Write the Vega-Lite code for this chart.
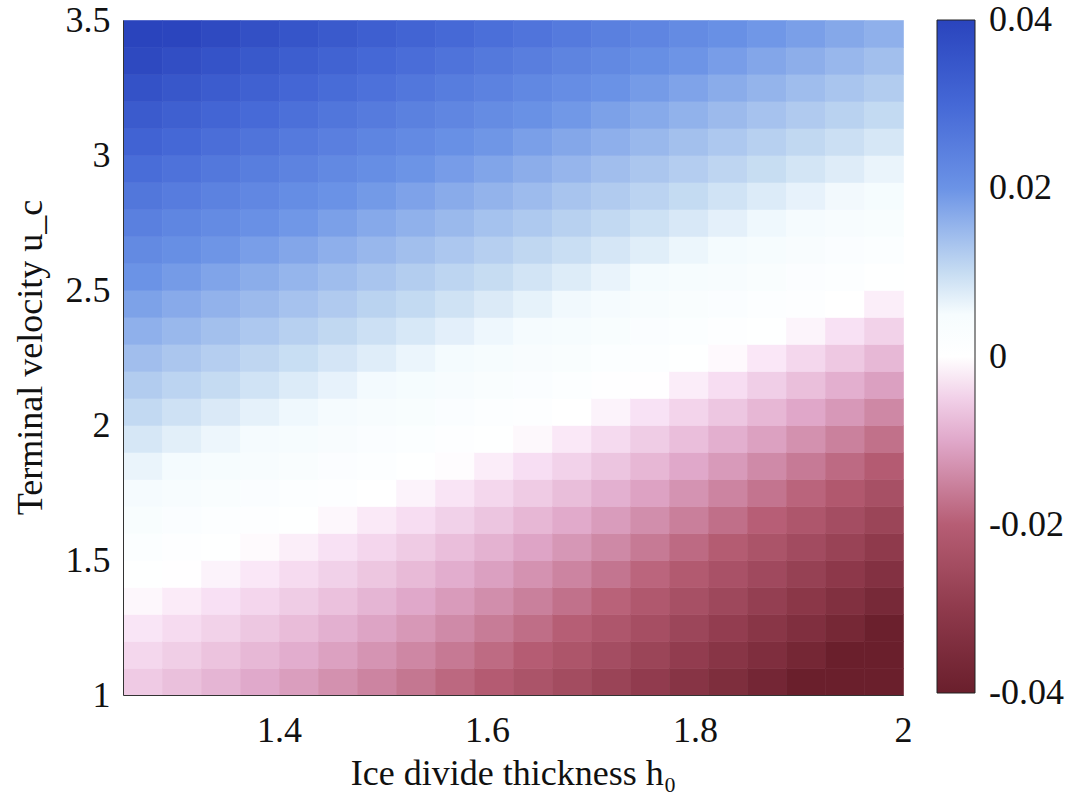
{
  "$schema": "https://vega.github.io/schema/vega-lite/v6.json",
  "autosize": {"type": "none"},
  "width": 780,
  "height": 675,
  "padding": {"left": 123, "top": 20, "right": 173, "bottom": 106},
  "background": "white",
  "config": {
    "view": {"stroke": null},
    "font": "Liberation Serif"
  },
  "data": {"values": [
{"h":1.2688,"u":1.05,"v":-0.0057},{"h":1.2688,"u":1.15,"v":-0.0041},{"h":1.2688,"u":1.25,"v":-0.0025},{"h":1.2688,"u":1.35,"v":-0.0008},{"h":1.2688,"u":1.45,"v":0.0007},{"h":1.2688,"u":1.55,"v":0.0022},{"h":1.2688,"u":1.65,"v":0.0037},{"h":1.2688,"u":1.75,"v":0.0053},{"h":1.2688,"u":1.85,"v":0.0069},{"h":1.2688,"u":1.95,"v":0.0086},{"h":1.2688,"u":2.05,"v":0.0104},{"h":1.2688,"u":2.15,"v":0.0122},{"h":1.2688,"u":2.25,"v":0.0141},{"h":1.2688,"u":2.35,"v":0.0160},{"h":1.2688,"u":2.45,"v":0.0180},{"h":1.2688,"u":2.55,"v":0.0201},{"h":1.2688,"u":2.65,"v":0.0222},{"h":1.2688,"u":2.75,"v":0.0244},{"h":1.2688,"u":2.85,"v":0.0266},{"h":1.2688,"u":2.95,"v":0.0289},{"h":1.2688,"u":3.05,"v":0.0313},{"h":1.2688,"u":3.15,"v":0.0337},{"h":1.2688,"u":3.25,"v":0.0362},{"h":1.2688,"u":3.35,"v":0.0387},{"h":1.2688,"u":3.45,"v":0.0400},
{"h":1.3063,"u":1.05,"v":-0.0070},{"h":1.3063,"u":1.15,"v":-0.0053},{"h":1.3063,"u":1.25,"v":-0.0036},{"h":1.3063,"u":1.35,"v":-0.0019},{"h":1.3063,"u":1.45,"v":-0.0001},{"h":1.3063,"u":1.55,"v":0.0013},{"h":1.3063,"u":1.65,"v":0.0028},{"h":1.3063,"u":1.75,"v":0.0043},{"h":1.3063,"u":1.85,"v":0.0059},{"h":1.3063,"u":1.95,"v":0.0076},{"h":1.3063,"u":2.05,"v":0.0093},{"h":1.3063,"u":2.15,"v":0.0111},{"h":1.3063,"u":2.25,"v":0.0130},{"h":1.3063,"u":2.35,"v":0.0149},{"h":1.3063,"u":2.45,"v":0.0168},{"h":1.3063,"u":2.55,"v":0.0189},{"h":1.3063,"u":2.65,"v":0.0210},{"h":1.3063,"u":2.75,"v":0.0231},{"h":1.3063,"u":2.85,"v":0.0253},{"h":1.3063,"u":2.95,"v":0.0276},{"h":1.3063,"u":3.05,"v":0.0299},{"h":1.3063,"u":3.15,"v":0.0323},{"h":1.3063,"u":3.25,"v":0.0347},{"h":1.3063,"u":3.35,"v":0.0372},{"h":1.3063,"u":3.45,"v":0.0398},
{"h":1.3438,"u":1.05,"v":-0.0084},{"h":1.3438,"u":1.15,"v":-0.0066},{"h":1.3438,"u":1.25,"v":-0.0048},{"h":1.3438,"u":1.35,"v":-0.0030},{"h":1.3438,"u":1.45,"v":-0.0012},{"h":1.3438,"u":1.55,"v":0.0005},{"h":1.3438,"u":1.65,"v":0.0019},{"h":1.3438,"u":1.75,"v":0.0034},{"h":1.3438,"u":1.85,"v":0.0050},{"h":1.3438,"u":1.95,"v":0.0066},{"h":1.3438,"u":2.05,"v":0.0083},{"h":1.3438,"u":2.15,"v":0.0101},{"h":1.3438,"u":2.25,"v":0.0119},{"h":1.3438,"u":2.35,"v":0.0138},{"h":1.3438,"u":2.45,"v":0.0157},{"h":1.3438,"u":2.55,"v":0.0177},{"h":1.3438,"u":2.65,"v":0.0197},{"h":1.3438,"u":2.75,"v":0.0218},{"h":1.3438,"u":2.85,"v":0.0240},{"h":1.3438,"u":2.95,"v":0.0262},{"h":1.3438,"u":3.05,"v":0.0285},{"h":1.3438,"u":3.15,"v":0.0309},{"h":1.3438,"u":3.25,"v":0.0333},{"h":1.3438,"u":3.35,"v":0.0358},{"h":1.3438,"u":3.45,"v":0.0383},
{"h":1.3813,"u":1.05,"v":-0.0099},{"h":1.3813,"u":1.15,"v":-0.0080},{"h":1.3813,"u":1.25,"v":-0.0061},{"h":1.3813,"u":1.35,"v":-0.0042},{"h":1.3813,"u":1.45,"v":-0.0023},{"h":1.3813,"u":1.55,"v":-0.0005},{"h":1.3813,"u":1.65,"v":0.0011},{"h":1.3813,"u":1.75,"v":0.0026},{"h":1.3813,"u":1.85,"v":0.0041},{"h":1.3813,"u":1.95,"v":0.0057},{"h":1.3813,"u":2.05,"v":0.0073},{"h":1.3813,"u":2.15,"v":0.0091},{"h":1.3813,"u":2.25,"v":0.0108},{"h":1.3813,"u":2.35,"v":0.0127},{"h":1.3813,"u":2.45,"v":0.0146},{"h":1.3813,"u":2.55,"v":0.0165},{"h":1.3813,"u":2.65,"v":0.0185},{"h":1.3813,"u":2.75,"v":0.0206},{"h":1.3813,"u":2.85,"v":0.0227},{"h":1.3813,"u":2.95,"v":0.0249},{"h":1.3813,"u":3.05,"v":0.0272},{"h":1.3813,"u":3.15,"v":0.0295},{"h":1.3813,"u":3.25,"v":0.0319},{"h":1.3813,"u":3.35,"v":0.0343},{"h":1.3813,"u":3.45,"v":0.0368},
{"h":1.4188,"u":1.05,"v":-0.0114},{"h":1.4188,"u":1.15,"v":-0.0094},{"h":1.4188,"u":1.25,"v":-0.0075},{"h":1.4188,"u":1.35,"v":-0.0055},{"h":1.4188,"u":1.45,"v":-0.0036},{"h":1.4188,"u":1.55,"v":-0.0016},{"h":1.4188,"u":1.65,"v":0.0003},{"h":1.4188,"u":1.75,"v":0.0017},{"h":1.4188,"u":1.85,"v":0.0032},{"h":1.4188,"u":1.95,"v":0.0048},{"h":1.4188,"u":2.05,"v":0.0064},{"h":1.4188,"u":2.15,"v":0.0081},{"h":1.4188,"u":2.25,"v":0.0098},{"h":1.4188,"u":2.35,"v":0.0116},{"h":1.4188,"u":2.45,"v":0.0135},{"h":1.4188,"u":2.55,"v":0.0154},{"h":1.4188,"u":2.65,"v":0.0174},{"h":1.4188,"u":2.75,"v":0.0194},{"h":1.4188,"u":2.85,"v":0.0215},{"h":1.4188,"u":2.95,"v":0.0237},{"h":1.4188,"u":3.05,"v":0.0259},{"h":1.4188,"u":3.15,"v":0.0282},{"h":1.4188,"u":3.25,"v":0.0305},{"h":1.4188,"u":3.35,"v":0.0329},{"h":1.4188,"u":3.45,"v":0.0354},
{"h":1.4563,"u":1.05,"v":-0.0131},{"h":1.4563,"u":1.15,"v":-0.0110},{"h":1.4563,"u":1.25,"v":-0.0090},{"h":1.4563,"u":1.35,"v":-0.0069},{"h":1.4563,"u":1.45,"v":-0.0049},{"h":1.4563,"u":1.55,"v":-0.0029},{"h":1.4563,"u":1.65,"v":-0.0008},{"h":1.4563,"u":1.75,"v":0.0009},{"h":1.4563,"u":1.85,"v":0.0023},{"h":1.4563,"u":1.95,"v":0.0038},{"h":1.4563,"u":2.05,"v":0.0054},{"h":1.4563,"u":2.15,"v":0.0071},{"h":1.4563,"u":2.25,"v":0.0088},{"h":1.4563,"u":2.35,"v":0.0105},{"h":1.4563,"u":2.45,"v":0.0124},{"h":1.4563,"u":2.55,"v":0.0143},{"h":1.4563,"u":2.65,"v":0.0162},{"h":1.4563,"u":2.75,"v":0.0182},{"h":1.4563,"u":2.85,"v":0.0203},{"h":1.4563,"u":2.95,"v":0.0224},{"h":1.4563,"u":3.05,"v":0.0246},{"h":1.4563,"u":3.15,"v":0.0268},{"h":1.4563,"u":3.25,"v":0.0291},{"h":1.4563,"u":3.35,"v":0.0315},{"h":1.4563,"u":3.45,"v":0.0339},
{"h":1.4938,"u":1.05,"v":-0.0148},{"h":1.4938,"u":1.15,"v":-0.0127},{"h":1.4938,"u":1.25,"v":-0.0106},{"h":1.4938,"u":1.35,"v":-0.0084},{"h":1.4938,"u":1.45,"v":-0.0063},{"h":1.4938,"u":1.55,"v":-0.0042},{"h":1.4938,"u":1.65,"v":-0.0021},{"h":1.4938,"u":1.75,"v":0.0000},{"h":1.4938,"u":1.85,"v":0.0015},{"h":1.4938,"u":1.95,"v":0.0030},{"h":1.4938,"u":2.05,"v":0.0045},{"h":1.4938,"u":2.15,"v":0.0061},{"h":1.4938,"u":2.25,"v":0.0078},{"h":1.4938,"u":2.35,"v":0.0095},{"h":1.4938,"u":2.45,"v":0.0113},{"h":1.4938,"u":2.55,"v":0.0132},{"h":1.4938,"u":2.65,"v":0.0151},{"h":1.4938,"u":2.75,"v":0.0170},{"h":1.4938,"u":2.85,"v":0.0191},{"h":1.4938,"u":2.95,"v":0.0212},{"h":1.4938,"u":3.05,"v":0.0233},{"h":1.4938,"u":3.15,"v":0.0255},{"h":1.4938,"u":3.25,"v":0.0278},{"h":1.4938,"u":3.35,"v":0.0301},{"h":1.4938,"u":3.45,"v":0.0325},
{"h":1.5313,"u":1.05,"v":-0.0166},{"h":1.5313,"u":1.15,"v":-0.0144},{"h":1.5313,"u":1.25,"v":-0.0122},{"h":1.5313,"u":1.35,"v":-0.0100},{"h":1.5313,"u":1.45,"v":-0.0078},{"h":1.5313,"u":1.55,"v":-0.0056},{"h":1.5313,"u":1.65,"v":-0.0034},{"h":1.5313,"u":1.75,"v":-0.0012},{"h":1.5313,"u":1.85,"v":0.0006},{"h":1.5313,"u":1.95,"v":0.0021},{"h":1.5313,"u":2.05,"v":0.0036},{"h":1.5313,"u":2.15,"v":0.0052},{"h":1.5313,"u":2.25,"v":0.0068},{"h":1.5313,"u":2.35,"v":0.0085},{"h":1.5313,"u":2.45,"v":0.0103},{"h":1.5313,"u":2.55,"v":0.0121},{"h":1.5313,"u":2.65,"v":0.0140},{"h":1.5313,"u":2.75,"v":0.0159},{"h":1.5313,"u":2.85,"v":0.0179},{"h":1.5313,"u":2.95,"v":0.0199},{"h":1.5313,"u":3.05,"v":0.0221},{"h":1.5313,"u":3.15,"v":0.0242},{"h":1.5313,"u":3.25,"v":0.0265},{"h":1.5313,"u":3.35,"v":0.0288},{"h":1.5313,"u":3.45,"v":0.0311},
{"h":1.5688,"u":1.05,"v":-0.0186},{"h":1.5688,"u":1.15,"v":-0.0163},{"h":1.5688,"u":1.25,"v":-0.0140},{"h":1.5688,"u":1.35,"v":-0.0117},{"h":1.5688,"u":1.45,"v":-0.0094},{"h":1.5688,"u":1.55,"v":-0.0072},{"h":1.5688,"u":1.65,"v":-0.0049},{"h":1.5688,"u":1.75,"v":-0.0026},{"h":1.5688,"u":1.85,"v":-0.0003},{"h":1.5688,"u":1.95,"v":0.0012},{"h":1.5688,"u":2.05,"v":0.0027},{"h":1.5688,"u":2.15,"v":0.0042},{"h":1.5688,"u":2.25,"v":0.0059},{"h":1.5688,"u":2.35,"v":0.0075},{"h":1.5688,"u":2.45,"v":0.0092},{"h":1.5688,"u":2.55,"v":0.0110},{"h":1.5688,"u":2.65,"v":0.0129},{"h":1.5688,"u":2.75,"v":0.0148},{"h":1.5688,"u":2.85,"v":0.0167},{"h":1.5688,"u":2.95,"v":0.0187},{"h":1.5688,"u":3.05,"v":0.0208},{"h":1.5688,"u":3.15,"v":0.0230},{"h":1.5688,"u":3.25,"v":0.0252},{"h":1.5688,"u":3.35,"v":0.0274},{"h":1.5688,"u":3.45,"v":0.0297},
{"h":1.6063,"u":1.05,"v":-0.0206},{"h":1.6063,"u":1.15,"v":-0.0182},{"h":1.6063,"u":1.25,"v":-0.0159},{"h":1.6063,"u":1.35,"v":-0.0135},{"h":1.6063,"u":1.45,"v":-0.0111},{"h":1.6063,"u":1.55,"v":-0.0088},{"h":1.6063,"u":1.65,"v":-0.0064},{"h":1.6063,"u":1.75,"v":-0.0041},{"h":1.6063,"u":1.85,"v":-0.0017},{"h":1.6063,"u":1.95,"v":0.0004},{"h":1.6063,"u":2.05,"v":0.0018},{"h":1.6063,"u":2.15,"v":0.0033},{"h":1.6063,"u":2.25,"v":0.0049},{"h":1.6063,"u":2.35,"v":0.0065},{"h":1.6063,"u":2.45,"v":0.0082},{"h":1.6063,"u":2.55,"v":0.0100},{"h":1.6063,"u":2.65,"v":0.0118},{"h":1.6063,"u":2.75,"v":0.0136},{"h":1.6063,"u":2.85,"v":0.0156},{"h":1.6063,"u":2.95,"v":0.0176},{"h":1.6063,"u":3.05,"v":0.0196},{"h":1.6063,"u":3.15,"v":0.0217},{"h":1.6063,"u":3.25,"v":0.0239},{"h":1.6063,"u":3.35,"v":0.0261},{"h":1.6063,"u":3.45,"v":0.0284},
{"h":1.6438,"u":1.05,"v":-0.0227},{"h":1.6438,"u":1.15,"v":-0.0203},{"h":1.6438,"u":1.25,"v":-0.0178},{"h":1.6438,"u":1.35,"v":-0.0154},{"h":1.6438,"u":1.45,"v":-0.0129},{"h":1.6438,"u":1.55,"v":-0.0105},{"h":1.6438,"u":1.65,"v":-0.0081},{"h":1.6438,"u":1.75,"v":-0.0056},{"h":1.6438,"u":1.85,"v":-0.0032},{"h":1.6438,"u":1.95,"v":-0.0007},{"h":1.6438,"u":2.05,"v":0.0010},{"h":1.6438,"u":2.15,"v":0.0025},{"h":1.6438,"u":2.25,"v":0.0040},{"h":1.6438,"u":2.35,"v":0.0056},{"h":1.6438,"u":2.45,"v":0.0072},{"h":1.6438,"u":2.55,"v":0.0090},{"h":1.6438,"u":2.65,"v":0.0107},{"h":1.6438,"u":2.75,"v":0.0126},{"h":1.6438,"u":2.85,"v":0.0145},{"h":1.6438,"u":2.95,"v":0.0164},{"h":1.6438,"u":3.05,"v":0.0184},{"h":1.6438,"u":3.15,"v":0.0205},{"h":1.6438,"u":3.25,"v":0.0226},{"h":1.6438,"u":3.35,"v":0.0248},{"h":1.6438,"u":3.45,"v":0.0271},
{"h":1.6813,"u":1.05,"v":-0.0249},{"h":1.6813,"u":1.15,"v":-0.0224},{"h":1.6813,"u":1.25,"v":-0.0199},{"h":1.6813,"u":1.35,"v":-0.0173},{"h":1.6813,"u":1.45,"v":-0.0148},{"h":1.6813,"u":1.55,"v":-0.0123},{"h":1.6813,"u":1.65,"v":-0.0098},{"h":1.6813,"u":1.75,"v":-0.0073},{"h":1.6813,"u":1.85,"v":-0.0047},{"h":1.6813,"u":1.95,"v":-0.0022},{"h":1.6813,"u":2.05,"v":0.0002},{"h":1.6813,"u":2.15,"v":0.0016},{"h":1.6813,"u":2.25,"v":0.0031},{"h":1.6813,"u":2.35,"v":0.0047},{"h":1.6813,"u":2.45,"v":0.0063},{"h":1.6813,"u":2.55,"v":0.0080},{"h":1.6813,"u":2.65,"v":0.0097},{"h":1.6813,"u":2.75,"v":0.0115},{"h":1.6813,"u":2.85,"v":0.0133},{"h":1.6813,"u":2.95,"v":0.0153},{"h":1.6813,"u":3.05,"v":0.0172},{"h":1.6813,"u":3.15,"v":0.0193},{"h":1.6813,"u":3.25,"v":0.0214},{"h":1.6813,"u":3.35,"v":0.0235},{"h":1.6813,"u":3.45,"v":0.0257},
{"h":1.7188,"u":1.05,"v":-0.0272},{"h":1.7188,"u":1.15,"v":-0.0246},{"h":1.7188,"u":1.25,"v":-0.0220},{"h":1.7188,"u":1.35,"v":-0.0194},{"h":1.7188,"u":1.45,"v":-0.0168},{"h":1.7188,"u":1.55,"v":-0.0142},{"h":1.7188,"u":1.65,"v":-0.0116},{"h":1.7188,"u":1.75,"v":-0.0090},{"h":1.7188,"u":1.85,"v":-0.0064},{"h":1.7188,"u":1.95,"v":-0.0038},{"h":1.7188,"u":2.05,"v":-0.0012},{"h":1.7188,"u":2.15,"v":0.0008},{"h":1.7188,"u":2.25,"v":0.0022},{"h":1.7188,"u":2.35,"v":0.0037},{"h":1.7188,"u":2.45,"v":0.0053},{"h":1.7188,"u":2.55,"v":0.0070},{"h":1.7188,"u":2.65,"v":0.0087},{"h":1.7188,"u":2.75,"v":0.0104},{"h":1.7188,"u":2.85,"v":0.0123},{"h":1.7188,"u":2.95,"v":0.0141},{"h":1.7188,"u":3.05,"v":0.0161},{"h":1.7188,"u":3.15,"v":0.0181},{"h":1.7188,"u":3.25,"v":0.0202},{"h":1.7188,"u":3.35,"v":0.0223},{"h":1.7188,"u":3.45,"v":0.0245},
{"h":1.7563,"u":1.05,"v":-0.0296},{"h":1.7563,"u":1.15,"v":-0.0269},{"h":1.7563,"u":1.25,"v":-0.0242},{"h":1.7563,"u":1.35,"v":-0.0215},{"h":1.7563,"u":1.45,"v":-0.0189},{"h":1.7563,"u":1.55,"v":-0.0162},{"h":1.7563,"u":1.65,"v":-0.0135},{"h":1.7563,"u":1.75,"v":-0.0108},{"h":1.7563,"u":1.85,"v":-0.0081},{"h":1.7563,"u":1.95,"v":-0.0055},{"h":1.7563,"u":2.05,"v":-0.0028},{"h":1.7563,"u":2.15,"v":-0.0001},{"h":1.7563,"u":2.25,"v":0.0014},{"h":1.7563,"u":2.35,"v":0.0029},{"h":1.7563,"u":2.45,"v":0.0044},{"h":1.7563,"u":2.55,"v":0.0060},{"h":1.7563,"u":2.65,"v":0.0077},{"h":1.7563,"u":2.75,"v":0.0094},{"h":1.7563,"u":2.85,"v":0.0112},{"h":1.7563,"u":2.95,"v":0.0130},{"h":1.7563,"u":3.05,"v":0.0150},{"h":1.7563,"u":3.15,"v":0.0169},{"h":1.7563,"u":3.25,"v":0.0189},{"h":1.7563,"u":3.35,"v":0.0210},{"h":1.7563,"u":3.45,"v":0.0232},
{"h":1.7938,"u":1.05,"v":-0.0321},{"h":1.7938,"u":1.15,"v":-0.0293},{"h":1.7938,"u":1.25,"v":-0.0266},{"h":1.7938,"u":1.35,"v":-0.0238},{"h":1.7938,"u":1.45,"v":-0.0210},{"h":1.7938,"u":1.55,"v":-0.0183},{"h":1.7938,"u":1.65,"v":-0.0155},{"h":1.7938,"u":1.75,"v":-0.0128},{"h":1.7938,"u":1.85,"v":-0.0100},{"h":1.7938,"u":1.95,"v":-0.0072},{"h":1.7938,"u":2.05,"v":-0.0045},{"h":1.7938,"u":2.15,"v":-0.0017},{"h":1.7938,"u":2.25,"v":0.0005},{"h":1.7938,"u":2.35,"v":0.0020},{"h":1.7938,"u":2.45,"v":0.0035},{"h":1.7938,"u":2.55,"v":0.0051},{"h":1.7938,"u":2.65,"v":0.0067},{"h":1.7938,"u":2.75,"v":0.0084},{"h":1.7938,"u":2.85,"v":0.0102},{"h":1.7938,"u":2.95,"v":0.0120},{"h":1.7938,"u":3.05,"v":0.0138},{"h":1.7938,"u":3.15,"v":0.0158},{"h":1.7938,"u":3.25,"v":0.0178},{"h":1.7938,"u":3.35,"v":0.0198},{"h":1.7938,"u":3.45,"v":0.0219},
{"h":1.8313,"u":1.05,"v":-0.0346},{"h":1.8313,"u":1.15,"v":-0.0318},{"h":1.8313,"u":1.25,"v":-0.0290},{"h":1.8313,"u":1.35,"v":-0.0261},{"h":1.8313,"u":1.45,"v":-0.0233},{"h":1.8313,"u":1.55,"v":-0.0204},{"h":1.8313,"u":1.65,"v":-0.0176},{"h":1.8313,"u":1.75,"v":-0.0148},{"h":1.8313,"u":1.85,"v":-0.0119},{"h":1.8313,"u":1.95,"v":-0.0091},{"h":1.8313,"u":2.05,"v":-0.0062},{"h":1.8313,"u":2.15,"v":-0.0034},{"h":1.8313,"u":2.25,"v":-0.0006},{"h":1.8313,"u":2.35,"v":0.0011},{"h":1.8313,"u":2.45,"v":0.0026},{"h":1.8313,"u":2.55,"v":0.0042},{"h":1.8313,"u":2.65,"v":0.0058},{"h":1.8313,"u":2.75,"v":0.0074},{"h":1.8313,"u":2.85,"v":0.0091},{"h":1.8313,"u":2.95,"v":0.0109},{"h":1.8313,"u":3.05,"v":0.0127},{"h":1.8313,"u":3.15,"v":0.0146},{"h":1.8313,"u":3.25,"v":0.0166},{"h":1.8313,"u":3.35,"v":0.0186},{"h":1.8313,"u":3.45,"v":0.0207},
{"h":1.8688,"u":1.05,"v":-0.0373},{"h":1.8688,"u":1.15,"v":-0.0344},{"h":1.8688,"u":1.25,"v":-0.0315},{"h":1.8688,"u":1.35,"v":-0.0286},{"h":1.8688,"u":1.45,"v":-0.0256},{"h":1.8688,"u":1.55,"v":-0.0227},{"h":1.8688,"u":1.65,"v":-0.0198},{"h":1.8688,"u":1.75,"v":-0.0169},{"h":1.8688,"u":1.85,"v":-0.0140},{"h":1.8688,"u":1.95,"v":-0.0110},{"h":1.8688,"u":2.05,"v":-0.0081},{"h":1.8688,"u":2.15,"v":-0.0052},{"h":1.8688,"u":2.25,"v":-0.0023},{"h":1.8688,"u":2.35,"v":0.0003},{"h":1.8688,"u":2.45,"v":0.0018},{"h":1.8688,"u":2.55,"v":0.0033},{"h":1.8688,"u":2.65,"v":0.0048},{"h":1.8688,"u":2.75,"v":0.0064},{"h":1.8688,"u":2.85,"v":0.0081},{"h":1.8688,"u":2.95,"v":0.0099},{"h":1.8688,"u":3.05,"v":0.0117},{"h":1.8688,"u":3.15,"v":0.0135},{"h":1.8688,"u":3.25,"v":0.0155},{"h":1.8688,"u":3.35,"v":0.0174},{"h":1.8688,"u":3.45,"v":0.0195},
{"h":1.9063,"u":1.05,"v":-0.0400},{"h":1.9063,"u":1.15,"v":-0.0371},{"h":1.9063,"u":1.25,"v":-0.0341},{"h":1.9063,"u":1.35,"v":-0.0311},{"h":1.9063,"u":1.45,"v":-0.0281},{"h":1.9063,"u":1.55,"v":-0.0251},{"h":1.9063,"u":1.65,"v":-0.0221},{"h":1.9063,"u":1.75,"v":-0.0191},{"h":1.9063,"u":1.85,"v":-0.0161},{"h":1.9063,"u":1.95,"v":-0.0131},{"h":1.9063,"u":2.05,"v":-0.0101},{"h":1.9063,"u":2.15,"v":-0.0071},{"h":1.9063,"u":2.25,"v":-0.0041},{"h":1.9063,"u":2.35,"v":-0.0011},{"h":1.9063,"u":2.45,"v":0.0009},{"h":1.9063,"u":2.55,"v":0.0024},{"h":1.9063,"u":2.65,"v":0.0039},{"h":1.9063,"u":2.75,"v":0.0055},{"h":1.9063,"u":2.85,"v":0.0071},{"h":1.9063,"u":2.95,"v":0.0089},{"h":1.9063,"u":3.05,"v":0.0106},{"h":1.9063,"u":3.15,"v":0.0124},{"h":1.9063,"u":3.25,"v":0.0143},{"h":1.9063,"u":3.35,"v":0.0163},{"h":1.9063,"u":3.45,"v":0.0183},
{"h":1.9438,"u":1.05,"v":-0.0400},{"h":1.9438,"u":1.15,"v":-0.0399},{"h":1.9438,"u":1.25,"v":-0.0368},{"h":1.9438,"u":1.35,"v":-0.0337},{"h":1.9438,"u":1.45,"v":-0.0306},{"h":1.9438,"u":1.55,"v":-0.0275},{"h":1.9438,"u":1.65,"v":-0.0245},{"h":1.9438,"u":1.75,"v":-0.0214},{"h":1.9438,"u":1.85,"v":-0.0183},{"h":1.9438,"u":1.95,"v":-0.0152},{"h":1.9438,"u":2.05,"v":-0.0121},{"h":1.9438,"u":2.15,"v":-0.0091},{"h":1.9438,"u":2.25,"v":-0.0060},{"h":1.9438,"u":2.35,"v":-0.0029},{"h":1.9438,"u":2.45,"v":0.0001},{"h":1.9438,"u":2.55,"v":0.0015},{"h":1.9438,"u":2.65,"v":0.0030},{"h":1.9438,"u":2.75,"v":0.0046},{"h":1.9438,"u":2.85,"v":0.0062},{"h":1.9438,"u":2.95,"v":0.0079},{"h":1.9438,"u":3.05,"v":0.0096},{"h":1.9438,"u":3.15,"v":0.0114},{"h":1.9438,"u":3.25,"v":0.0132},{"h":1.9438,"u":3.35,"v":0.0151},{"h":1.9438,"u":3.45,"v":0.0171},
{"h":1.9813,"u":1.05,"v":-0.0400},{"h":1.9813,"u":1.15,"v":-0.0400},{"h":1.9813,"u":1.25,"v":-0.0396},{"h":1.9813,"u":1.35,"v":-0.0364},{"h":1.9813,"u":1.45,"v":-0.0332},{"h":1.9813,"u":1.55,"v":-0.0301},{"h":1.9813,"u":1.65,"v":-0.0269},{"h":1.9813,"u":1.75,"v":-0.0238},{"h":1.9813,"u":1.85,"v":-0.0206},{"h":1.9813,"u":1.95,"v":-0.0174},{"h":1.9813,"u":2.05,"v":-0.0143},{"h":1.9813,"u":2.15,"v":-0.0111},{"h":1.9813,"u":2.25,"v":-0.0080},{"h":1.9813,"u":2.35,"v":-0.0048},{"h":1.9813,"u":2.45,"v":-0.0016},{"h":1.9813,"u":2.55,"v":0.0007},{"h":1.9813,"u":2.65,"v":0.0021},{"h":1.9813,"u":2.75,"v":0.0037},{"h":1.9813,"u":2.85,"v":0.0052},{"h":1.9813,"u":2.95,"v":0.0069},{"h":1.9813,"u":3.05,"v":0.0086},{"h":1.9813,"u":3.15,"v":0.0103},{"h":1.9813,"u":3.25,"v":0.0122},{"h":1.9813,"u":3.35,"v":0.0140},{"h":1.9813,"u":3.45,"v":0.0160}
  ]},
  "mark": {"type": "rect", "strokeWidth": 0.6, "stroke": {"expr": "scale('color', datum.v)"}},
  "encoding": {
    "x": {
      "field": "h", "type": "quantitative",
      "bin": {"extent": [1.25, 2], "step": 0.0375, "nice": false},
      "scale": {"domain": [1.25, 2], "nice": false, "zero": false},
      "axis": {
        "title": "Ice divide thickness h₀",
        "values": [1.4, 1.6, 1.8, 2],
        "format": "~g",
        "grid": false, "ticks": false, "tickSize": 0,
        "domainColor": "#333", "domainWidth": 1,
        "labelFont": "Liberation Serif", "labelFontSize": 36, "labelColor": "#111",
        "labelPadding": 18, "labelFlush": false,
        "titleFont": "Liberation Serif", "titleFontSize": 36, "titleFontWeight": "normal", "titleColor": "#111",
        "titleY": 78, "titleBaseline": "middle"
      }
    },
    "y": {
      "field": "u", "type": "quantitative",
      "bin": {"extent": [1, 3.5], "step": 0.1, "nice": false},
      "scale": {"domain": [1, 3.5], "nice": false, "zero": false},
      "axis": {
        "title": "Terminal velocity u_c",
        "values": [1, 1.5, 2, 2.5, 3, 3.5],
        "format": "~g",
        "grid": false, "ticks": false, "tickSize": 0,
        "domainColor": "#333", "domainWidth": 1,
        "labelFont": "Liberation Serif", "labelFontSize": 36, "labelColor": "#111",
        "labelPadding": 13, "labelFlush": false,
        "titleFont": "Liberation Serif", "titleFontSize": 36, "titleFontWeight": "normal", "titleColor": "#111",
        "titleX": -93, "titleY": 337, "titleAngle": -90, "titleAlign": "center", "titleBaseline": "middle"
      }
    },
    "color": {
      "field": "v", "type": "quantitative",
      "scale": {
        "domain": [-0.04, -0.03, -0.02, -0.01, -0.003, 0, 0.006, 0.01, 0.02, 0.03, 0.04],
        "range": ["#6a1f2c", "#8f3a4c", "#b65d74", "#e0a8ca", "#f8e0f4", "#ffffff", "#f4fbfe", "#c6dcf2", "#6b93e6", "#4568d6", "#2a44bd"],
        "interpolate": "rgb",
        "clamp": true
      },
      "legend": {
        "title": null,
        "orient": "none",
        "legendX": 814,
        "legendY": 0,
        "direction": "vertical",
        "gradientLength": 673,
        "gradientThickness": 38,
        "gradientStrokeColor": "#222",
        "gradientStrokeWidth": 1,
        "values": [-0.04, -0.02, 0, 0.02, 0.04],
        "labelExpr": "datum.value == 0 ? '0' : (datum.value < 0 ? '-' + format(-datum.value, '.2f') : format(datum.value, '.2f'))",
        "labelFont": "Liberation Serif",
        "labelFontSize": 36,
        "labelColor": "#111",
        "labelOffset": 14,
        "labelOverlap": false,
        "encode": {"labels": {"update": {"baseline": {"value": "middle"}}}}
      }
    }
  }
}
